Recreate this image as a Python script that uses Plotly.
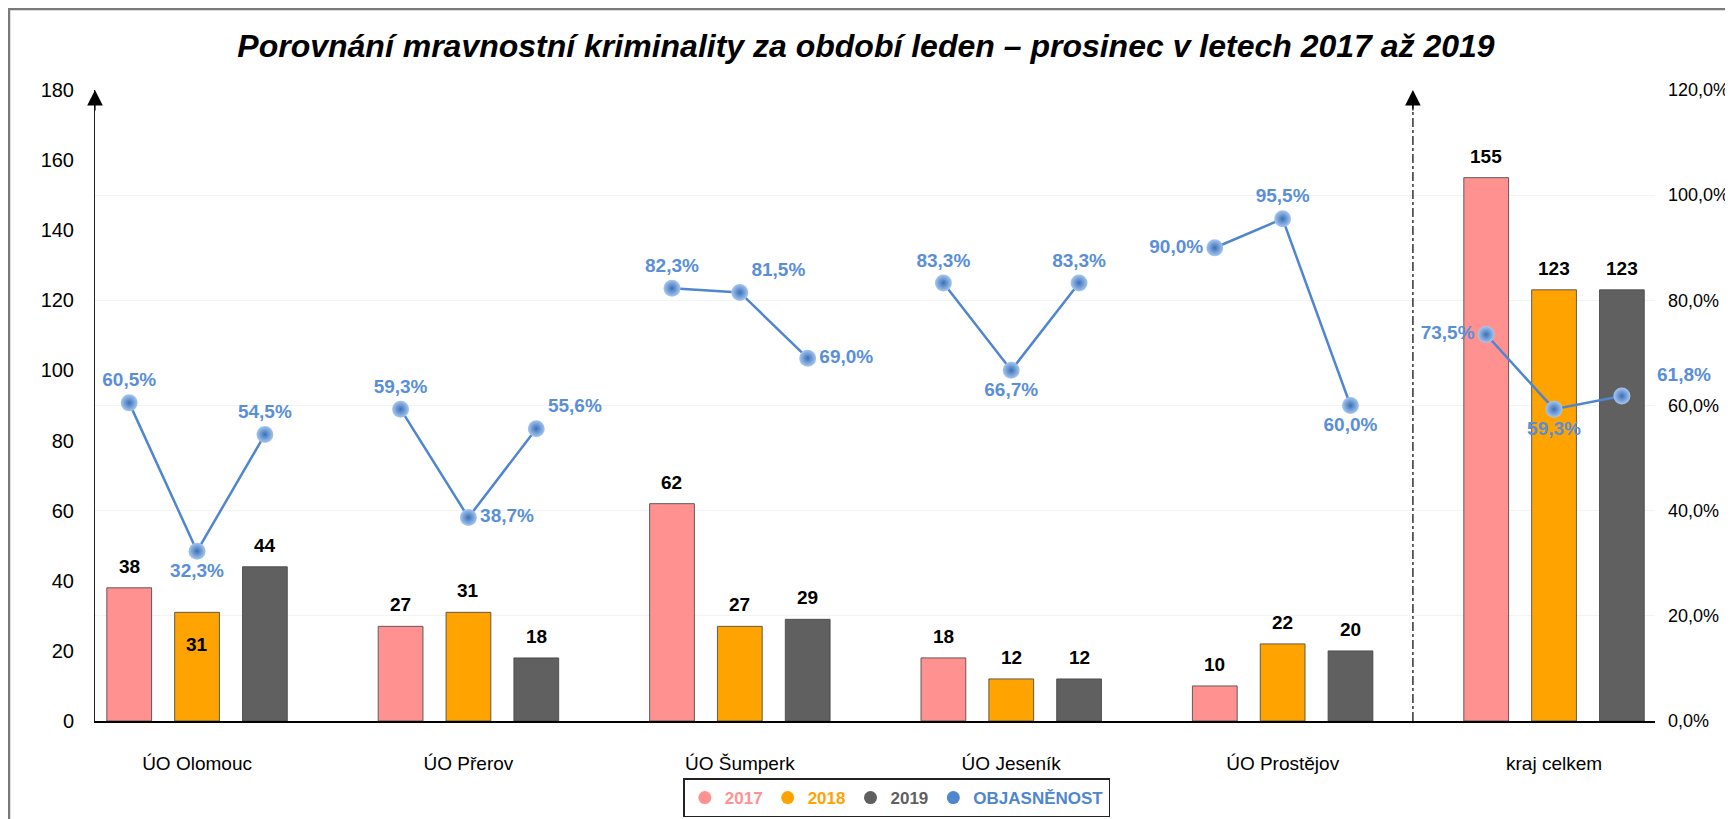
import plotly.graph_objects as go

# ---- data ----
categories = ["ÚO Olomouc", "ÚO Přerov", "ÚO Šumperk", "ÚO Jeseník", "ÚO Prostějov", "kraj celkem"]
years = ["2017", "2018", "2019"]
v2017 = [38, 27, 62, 18, 10, 155]
v2018 = [31, 31, 27, 12, 22, 123]
v2019 = [44, 18, 29, 12, 20, 123]
obj2017 = [60.5, 59.3, 82.3, 83.3, 90.0, 73.5]
obj2018 = [32.3, 38.7, 81.5, 66.7, 95.5, 59.3]
obj2019 = [54.5, 55.6, 69.0, 83.3, 60.0, 61.8]
y_ticks = [0, 20, 40, 60, 80, 100, 120, 140, 160, 180]
y2_ticks = [0, 20, 40, 60, 80, 100, 120]

bar_colors = ["#FF9191", "#FFA300", "#606060"]
line_color = "#4F86CF"
label_blue = "#5A8FD8"

FONT = "Liberation Sans, Arial, sans-serif"

step = 0.25      # spacing of bars within a group (in category units)
bw = 0.165       # bar width

fig = go.Figure()
annotations = []

series = [v2017, v2018, v2019]
for k, vals in enumerate(series):
    xs = [i + (k - 1) * step for i in range(len(categories))]
    fig.add_trace(go.Bar(
        x=xs, y=vals, width=bw,
        marker=dict(color=bar_colors[k], line=dict(color="rgba(70,70,70,0.85)", width=1)),
        showlegend=False, yaxis="y",
    ))
    for i, (x, v) in enumerate(zip(xs, vals)):
        inside = (k == 1 and i == 0)
        annotations.append(dict(
            xref="x", yref="y", x=x, y=v, text=str(v), showarrow=False,
            yanchor="top" if inside else "bottom",
            yshift=-20 if inside else 9,
            font=dict(family=FONT, size=19, color="black", weight="bold"),
        ))

# objasněnost line (segmented per group)
obj = [obj2017, obj2018, obj2019]
lx, ly, lt, lp = [], [], [], []
positions = [
    ["top center", "bottom center", "top center"],
    ["top center", "middle right", "top right"],
    ["top center", "top right", "middle right"],
    ["top center", "bottom center", "top center"],
    ["middle left", "top center", "bottom center"],
    ["middle left", "bottom center", None],
]
for i in range(len(categories)):
    for k in range(3):
        x = i + (k - 1) * step
        txt = f"{obj[k][i]:.1f}%".replace(".", ",")
        lx.append(x)
        ly.append(obj[k][i])
        if positions[i][k] is None:
            lt.append("")
            lp.append("top center")
            annotations.append(dict(
                xref="x", yref="y2", x=x, y=obj[k][i], text=txt, showarrow=False,
                xanchor="left", xshift=33, yshift=22,
                font=dict(family=FONT, size=19, color=label_blue, weight="bold"),
            ))
        else:
            lt.append(txt)
            lp.append(positions[i][k])
    lx.append(None); ly.append(None); lt.append(""); lp.append("top center")

fig.add_trace(go.Scatter(
    x=lx, y=ly, yaxis="y2", mode="lines+markers+text",
    line=dict(color=line_color, width=2.5),
    marker=dict(size=17, color="#A7C8F0",
                gradient=dict(type="radial", color="#3A6FB8"),
                line=dict(width=0)),
    text=lt, textposition=lp,
    textfont=dict(family=FONT, size=19, color=label_blue, weight="bold"),
    cliponaxis=False, showlegend=False, connectgaps=False,
))

# legend entries (circle symbols, coloured text)
leg_names = years + ["OBJASNĚNOST"]
leg_colors = bar_colors + [line_color]
for name, col in zip(leg_names, leg_colors):
    fig.add_trace(go.Scatter(
        x=[None], y=[None], mode="markers",
        marker=dict(symbol="circle", size=13, color=col),
        name=f'<span style="color:{col}">{name}</span>',
        showlegend=True, yaxis="y",
    ))

# the page body has an 8px margin: figure is drawn from (8, 8) of the window
W, H = 1725, 811
ml, mr, mt, mb = 87, 78, 82, 98
pw = W - ml - mr
ph = H - mt - mb

arrow = dict(text="", showarrow=True, ax=0, ay=22, arrowhead=2, arrowsize=2.6,
             arrowwidth=1.2, arrowcolor="black", standoff=0)
annotations.append(dict(xref="paper", yref="y", x=0, y=180, **arrow))
annotations.append(dict(xref="x", yref="y", x=4.48, y=180, **arrow))

fig.update_layout(
    width=W, height=H,
    margin=dict(l=ml, r=mr, t=mt, b=mb, autoexpand=False),
    paper_bgcolor="white", plot_bgcolor="white",
    separators=", ",
    barmode="overlay",
    font=dict(family=FONT, size=18, color="black"),
    title=dict(
        text="Porovnání mravnostní kriminality za období leden – prosinec v letech 2017 až 2019",
        x=(866 - 8) / W, xanchor="center", xref="container",
        y=1 - 38 / H, yanchor="middle", yref="container",
        font=dict(family=FONT, size=32, color="black", weight="bold", style="italic"),
    ),
    xaxis=dict(
        range=[-0.376, 5.372], automargin=False,
        tickmode="array", tickvals=list(range(len(categories))), ticktext=categories,
        showgrid=False, zeroline=False,
        showline=True, linecolor="black", linewidth=2,
        ticks="", ticklabelstandoff=24,
        tickfont=dict(family=FONT, size=19, color="black"),
    ),
    yaxis=dict(
        range=[0, 180], tickmode="array", tickvals=y_ticks, automargin=False,
        showgrid=False, zeroline=False,
        showline=True, linecolor="#222", linewidth=1,
        ticks="", ticklabelstandoff=16,
        tickfont=dict(family=FONT, size=20, color="black"),
    ),
    yaxis2=dict(
        range=[0, 120], overlaying="y", side="right", automargin=False,
        tickmode="array", tickvals=y2_ticks,
        ticktext=[f"{t:.1f}%".replace(".", ",") for t in y2_ticks],
        showgrid=True, gridcolor="#f3f3f3", gridwidth=1,
        zeroline=False, showline=False, ticks="", ticklabelstandoff=12,
        tickfont=dict(family=FONT, size=18, color="black"),
    ),
    legend=dict(
        orientation="h", x=0.514, xanchor="center",
        y=-0.122, yanchor="middle",
        bordercolor="#222", borderwidth=1.5, bgcolor="white",
        font=dict(family=FONT, size=17, weight="bold"),
        itemwidth=30, traceorder="normal",
    ),
    shapes=[
        dict(type="line", xref="x", yref="y", x0=4.48, x1=4.48, y0=0, y1=176,
             line=dict(color="#333", width=1.5, dash="dashdot")),
        dict(type="rect", xref="paper", yref="paper",
             x0=(1 - ml) / pw, x1=(W + 10 - ml) / pw,
             y0=-(H + 10 - (H - mb)) / ph, y1=((H - mb) - 1) / ph,
             line=dict(color="#7a7a7a", width=2.5), fillcolor="rgba(0,0,0,0)", layer="below"),
    ],
    annotations=annotations,
)

fig.write_html("out.html")
